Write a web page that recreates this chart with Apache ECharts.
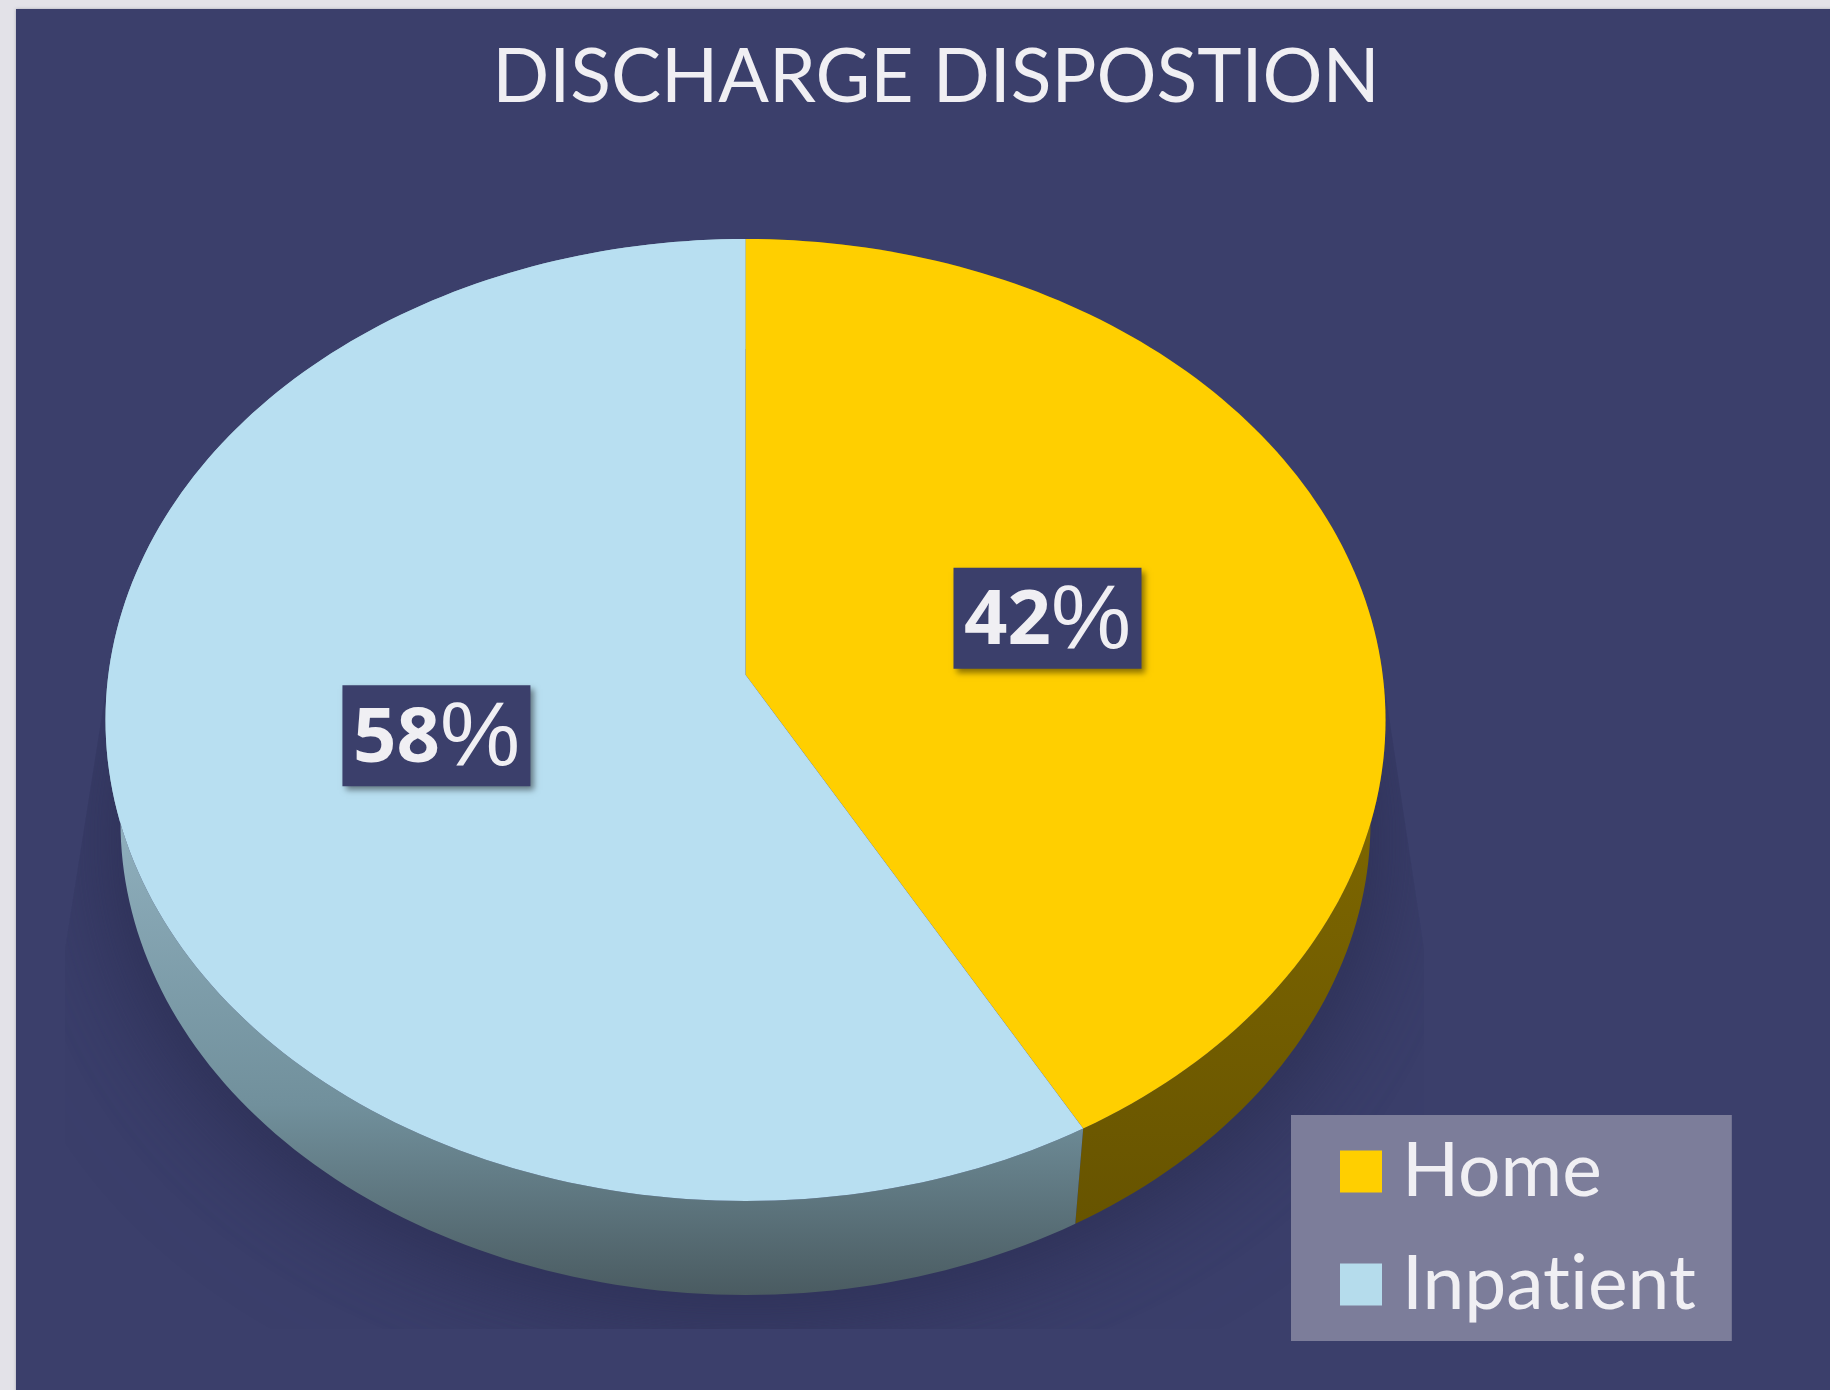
<!DOCTYPE html>
<html>
<head>
<meta charset="utf-8">
<title>Discharge Dispostion</title>
<style>
  html, body { margin: 0; padding: 0; background: #e3e2e8; }
  #chart { width: 1830px; height: 1390px; }
</style>
<script src="https://cdn.jsdelivr.net/npm/echarts@6/dist/echarts.min.js"></script>
</head>
<body>
<div id="chart"></div>
<script>
// data
var categories = ['Home', 'Inpatient'];
var percents = [42, 58];

// look
var topColors = ['#ffcf00', '#b8dff1'];
var legendColors = ['#ffcf00', '#b5dcec'];
var textColor = '#f0eff3';
var panelColor = '#3b3f6b';

// the tilted disc: ellipses for the top face and the bottom rim
var topDisc = { cx: 745.5, cy: 720, a: 640, b: 481 };
var lowDisc = { cx: 745.5, cy: 822, a: 625, b: 473 };
var shadowDisc = { cx: 745, cy: 840, a: 615, b: 450 };
// perspective, moves the apex above the ellipse centre
var innerTilt = -0.094;
var rimTilt = -0.105;

// the pie angle (percent from 12 o'clock, clockwise) and radius 0..1 to a pixel
function project(disc, pct, r, tilt) {
  var t = pct / 100 * Math.PI * 2;
  var u = Math.sin(t) * r;
  var v = -Math.cos(t) * r;
  var w = 1 + tilt * v;
  return [
    disc.cx + disc.a * u * Math.sqrt(1 - tilt * tilt) / w,
    disc.cy + disc.b * (v + tilt) / w
  ];
}

function rimPoints(disc, from, to) {
  var pts = [];
  var n = Math.max(2, Math.round((to - from) * 3));
  for (var i = 0; i <= n; i++) {
    pts.push(project(disc, from + (to - from) * i / n, 1, rimTilt));
  }
  return pts;
}

function wallFill(index) {
  if (index === 0) {
    return new echarts.graphic.LinearGradient(0, 820, 0, 1240, [
      { offset: 0, color: '#7d6600' },
      { offset: 1, color: '#665300' }
    ], true);
  }
  return new echarts.graphic.LinearGradient(0, 820, 0, 1295, [
    { offset: 0, color: '#8fafbd' },
    { offset: 0.6, color: '#71909c' },
    { offset: 1, color: '#4a5b61' }
  ], true);
}

function sliceSeries(index) {
  var start = 0;
  for (var i = 0; i < index; i++) start += percents[i];
  return {
    type: 'custom',
    name: categories[index],
    coordinateSystem: 'none',
    silent: true,
    itemStyle: { color: legendColors[index] },
    data: [[percents[index]]],
    renderItem: function (params, api) {
      var value = api.value(0);
      var end = start + value;
      var topRim = rimPoints(topDisc, start, end);
      var lowRim = rimPoints(lowDisc, start, end).reverse();
      var apex = project(topDisc, 0, 0, innerTilt);
      var mid = project(topDisc, start + value / 2, 0.495, innerTilt);
      return {
        type: 'group',
        children: [{
          type: 'polygon',
          z2: 2,
          shape: { points: topRim.concat(lowRim) },
          style: { fill: wallFill(index) }
        }, {
          type: 'polygon',
          z2: 3,
          shape: { points: [apex].concat(topRim) },
          style: { fill: topColors[index] }
        }, {
          type: 'rect',
          z2: 4,
          shape: { x: mid[0] - 94, y: mid[1] - 49, width: 188, height: 101 },
          style: {
            fill: panelColor,
            shadowColor: 'rgba(0,0,0,0.45)',
            shadowBlur: 6,
            shadowOffsetX: 4,
            shadowOffsetY: 4
          }
        }, {
          type: 'text',
          z2: 5,
          x: mid[0],
          y: mid[1] + 6,
          style: {
            text: '{d|' + value + '}{p|%}',
            align: 'center',
            verticalAlign: 'middle',
            rich: {
              d: { font: 'bold 76px "Open Sans"', fill: textColor, color: textColor },
              p: { font: '90px "Liberation Sans"', fill: textColor, color: textColor }
            }
          }
        }]
      };
    }
  };
}

// soft shadow under the disc, the clip gives it the straight sides and the cut foot
var shadowClip = [[106, 690], [1385, 690], [1424, 950], [1424, 1329], [65, 1329], [65, 950]];

function shadowLayer(blur) {
  return {
    type: 'polygon',
    z2: 1,
    shape: { points: rimPoints(shadowDisc, 0, 100) },
    style: { fill: '#2e3157', shadowColor: '#2e3157', shadowBlur: blur },
    clipPath: { type: 'polygon', shape: { points: shadowClip } }
  };
}

var shadowSeries = {
  type: 'custom',
  coordinateSystem: 'none',
  silent: true,
  data: [[0]],
  renderItem: function () {
    return { type: 'group', children: [shadowLayer(130), shadowLayer(90)] };
  }
};

var chart = echarts.init(document.getElementById('chart'), null, { renderer: 'canvas' });
chart.setOption({
  animation: false,
  tooltip: { show: false },
  graphic: [{
    type: 'rect',
    z: -1,
    silent: true,
    shape: { x: 16, y: 9, width: 1830, height: 1400 },
    style: { fill: panelColor, shadowColor: '#a9a9b2', shadowBlur: 3 }
  }],
  title: {
    text: 'DISCHARGE DISPOSTION',
    left: 931,
    top: 25,
    textAlign: 'center',
    textStyle: {
      color: textColor,
      fontFamily: 'Lato',
      fontWeight: 'normal',
      fontSize: 75,
      lineHeight: 96
    }
  },
  legend: {
    data: categories,
    orient: 'vertical',
    left: 1291,
    top: 1115,
    padding: [19, 36, 19, 49],
    itemWidth: 42,
    itemHeight: 42,
    itemGap: 38,
    icon: 'rect',
    selectedMode: false,
    backgroundColor: '#7c7d9a',
    // the zero width joiner keeps Lato from tying the "ti"
    formatter: function (name) { return name.replace('ti', 't\u200Ci'); },
    textStyle: {
      color: textColor,
      fontFamily: 'Lato',
      fontSize: 75,
      lineHeight: 66,
      padding: [0, 0, 0, 15]
    }
  },
  series: [shadowSeries, sliceSeries(0), sliceSeries(1)]
});
</script>
</body>
</html>
